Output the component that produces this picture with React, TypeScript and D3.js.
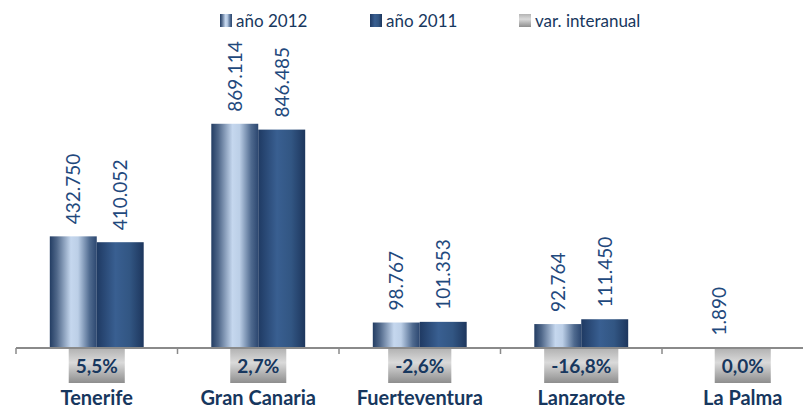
import { useEffect, useRef } from 'react';
import * as d3 from 'd3';

const islands = ['Tenerife', 'Gran Canaria', 'Fuerteventura', 'Lanzarote', 'La Palma'];
const values2012 = [432750, 869114, 98767, 92764, 1890];
const values2011: (number | null)[] = [410052, 846485, 101353, 111450, null];
const varInteranual = [5.5, 2.7, -2.6, -16.8, 0.0];
const seriesNames = ['año 2012', 'año 2011', 'var. interanual'];

const esLocale = d3.formatLocale({ decimal: ',', thousands: '.', grouping: [3], currency: ['', '€'], minus: '-' });
const fmtValue = esLocale.format(',d');
const fmtPct = (v: number) => esLocale.format('.1f')(v) + '%';

const WIDTH = 803;
const HEIGHT = 408;
const NAVY = '#17375E';
const LABEL_BLUE = '#1F497D';
const FONT = 'Lato, "Open Sans", sans-serif';

export default function App() {
  const svgRef = useRef<SVGSVGElement>(null);

  useEffect(() => {
    if (!svgRef.current) return;
    const svg = d3.select(svgRef.current);
    svg.selectAll('*').remove();
    svg.attr('width', WIDTH).attr('height', HEIGHT);

    const baseY = 348;
    const step = 161.5;

    // gradients
    const defs = svg.append('defs');
    const g2012 = defs.append('linearGradient').attr('id', 'g2012').attr('x1', 0).attr('x2', 1).attr('y1', 0).attr('y2', 0);
    [['0%', '#233d63'], ['15%', '#4f6789'], ['45%', '#c5d7ee'], ['60%', '#bccfe7'], ['85%', '#4f6a8f'], ['100%', '#2c4770']]
      .forEach(([o, c]) => g2012.append('stop').attr('offset', o).attr('stop-color', c));
    const g2011 = defs.append('linearGradient').attr('id', 'g2011').attr('x1', 0).attr('x2', 1).attr('y1', 0).attr('y2', 0);
    [['0%', '#1f3a63'], ['40%', '#395f91'], ['70%', '#325683'], ['100%', '#1d365d']]
      .forEach(([o, c]) => g2011.append('stop').attr('offset', o).attr('stop-color', c));
    const gVar = defs.append('linearGradient').attr('id', 'gVar').attr('x1', 0).attr('x2', 0).attr('y1', 0).attr('y2', 1);
    [['0%', '#b4b4b4'], ['40%', '#dadada'], ['100%', '#8e8e8e']]
      .forEach(([o, c]) => gVar.append('stop').attr('offset', o).attr('stop-color', c));

    const x = d3.scaleBand().domain(islands).range([16, 16 + step * islands.length]).padding(0);
    const xs = d3.scaleBand().domain(['2012', '2011']).range([0, x.bandwidth()]).paddingInner(0).paddingOuter(0.72);
    const y = d3.scaleLinear().domain([0, 1000000]).range([baseY, baseY - 258]);

    const series = [
      { key: '2012', vals: values2012 as (number | null)[], fill: 'url(#g2012)' },
      { key: '2011', vals: values2011, fill: 'url(#g2011)' },
    ];

    // bars + value labels
    series.forEach(s => {
      const data = islands.map((c, i) => ({ c, v: s.vals[i] })).filter(d => d.v !== null) as { c: string; v: number }[];
      svg.append('g').selectAll('rect')
        .data(data)
        .join('rect')
        .attr('x', d => x(d.c)! + xs(s.key)!)
        .attr('width', xs.bandwidth())
        .attr('y', d => y(d.v))
        .attr('height', d => baseY - y(d.v))
        .attr('fill', s.fill);

      svg.append('g').selectAll('text')
        .data(data)
        .join('text')
        .attr('transform', d => `translate(${x(d.c)! + xs(s.key)! + xs.bandwidth() / 2},${y(d.v) - 12}) rotate(-90)`)
        .attr('dy', '0.36em')
        .attr('text-anchor', 'start')
        .attr('fill', LABEL_BLUE)
        .attr('font-family', FONT)
        .attr('font-size', '19px')
        .text(d => fmtValue(d.v));
    });

    // axis
    svg.append('line')
      .attr('x1', 16).attr('x2', WIDTH).attr('y1', baseY).attr('y2', baseY)
      .attr('stroke', '#8a8a8a').attr('stroke-width', 2);
    svg.append('g').selectAll('line')
      .data(islands)
      .join('line')
      .attr('x1', d => x(d)!).attr('x2', d => x(d)!)
      .attr('y1', baseY).attr('y2', baseY + 6)
      .attr('stroke', '#8a8a8a').attr('stroke-width', 1.5);

    // variation boxes
    const varG = svg.append('g');
    islands.forEach((c, i) => {
      const cx = x(c)! + x.bandwidth() / 2;
      const t = varG.append('text')
        .attr('x', cx)
        .attr('y', 366)
        .attr('dy', '0.36em')
        .attr('text-anchor', 'middle')
        .attr('fill', NAVY)
        .attr('font-family', FONT)
        .attr('font-weight', 'bold')
        .attr('font-size', '19px')
        .text(fmtPct(varInteranual[i]));
      const w = (t.node() as SVGTextElement).getComputedTextLength() + 14;
      varG.insert('rect', 'text')
        .attr('x', cx - w / 2)
        .attr('y', 349)
        .attr('width', w)
        .attr('height', 34)
        .attr('fill', 'url(#gVar)');
    });

    // category labels
    svg.append('g').selectAll('text')
      .data(islands)
      .join('text')
      .attr('x', d => x(d)! + x.bandwidth() / 2)
      .attr('y', 405)
      .attr('text-anchor', 'middle')
      .attr('fill', NAVY)
      .attr('font-family', FONT)
      .attr('font-weight', 'bold')
      .attr('font-size', '20px')
      .text(d => d);

    // legend
    const legendX = [220, 370, 519];
    const legendFill = ['url(#g2012)', 'url(#g2011)', 'url(#gVar)'];
    const lg = svg.append('g').selectAll('g')
      .data(seriesNames)
      .join('g')
      .attr('transform', (d, i) => `translate(${legendX[i]},14)`);
    lg.append('rect').attr('width', 12).attr('height', 13).attr('fill', (d, i) => legendFill[i]);
    lg.append('text')
      .attr('x', 16)
      .attr('y', 13)
      .attr('fill', NAVY)
      .attr('font-family', FONT)
      .attr('font-size', '17px')
      .text(d => d);
  }, []);

  return (
    <svg ref={svgRef} style={{ position: 'absolute', left: 0, top: 0, background: '#fff' }}></svg>
  );
}
